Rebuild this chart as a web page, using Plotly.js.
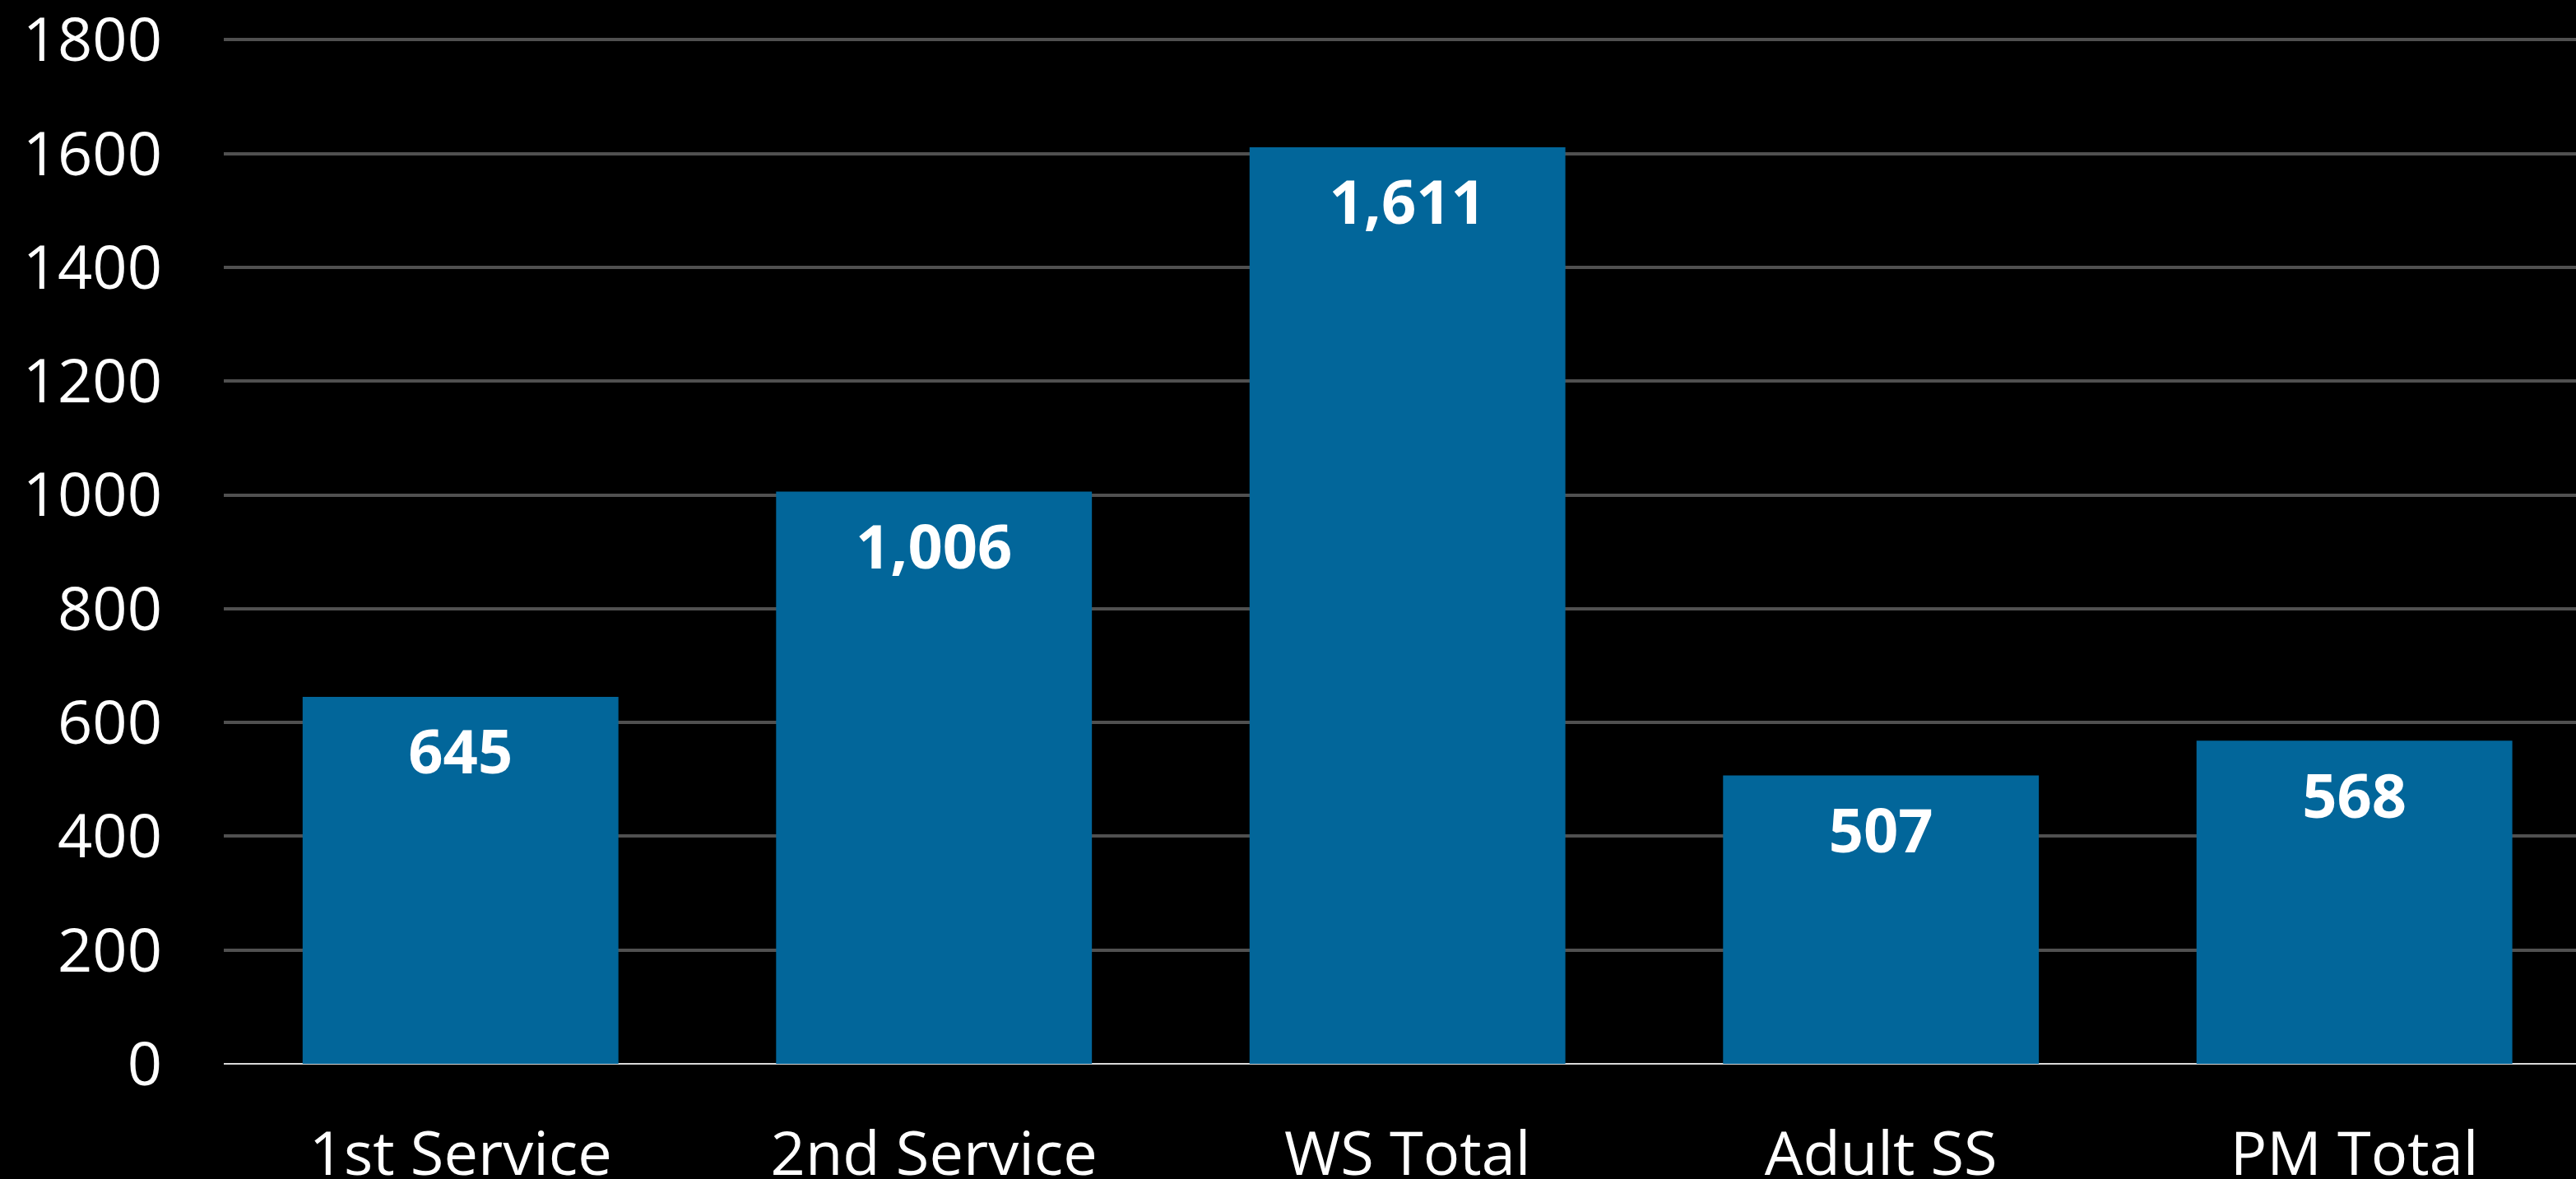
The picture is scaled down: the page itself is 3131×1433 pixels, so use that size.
<!DOCTYPE html>
<html>
<head>
<meta charset="utf-8">
<script src="https://cdn.plot.ly/plotly-3.0.1.min.js"></script>
<style>
html,body{margin:0;padding:0;background:#000;overflow:hidden;}
#chart{width:3131px;height:1433px;}
</style>
</head>
<body>
<div id="chart"></div>
<script>
const categories = ["1st Service", "2nd Service", "WS Total", "Adult SS", "PM Total"];
const attendance = [645, 1006, 1611, 507, 568];
const labels = ["645", "1,006", "1,611", "507", "568"];
const yTicks = [0, 200, 400, 600, 800, 1000, 1200, 1400, 1600, 1800];

const bars = {
  type: "bar",
  x: categories,
  y: attendance,
  marker: {color: "#02669a", line: {width: 0}},
  hoverinfo: "none"
};

const valueLabels = {
  type: "scatter",
  mode: "markers+text",
  x: categories,
  y: attendance,
  text: labels,
  textposition: "bottom center",
  textfont: {family: "Open Sans", size: 74, color: "#ffffff", weight: 700},
  marker: {size: 59, opacity: 0, color: "#02669a"},
  cliponaxis: false,
  hoverinfo: "none"
};

const layout = {
  width: 3131,
  height: 1433,
  paper_bgcolor: "#000000",
  plot_bgcolor: "#000000",
  margin: {l: 272, r: 0, t: 47, b: 140},
  bargap: 0.333,
  showlegend: false,
  font: {family: "Open Sans", color: "#ffffff", size: 74},
  xaxis: {
    type: "category",
    range: [-0.5, 4.468],
    showgrid: false,
    showline: false,
    ticks: "",
    ticklabelstandoff: 60,
    ticklabeloverflow: "allow",
    tickfont: {family: "Open Sans", size: 74, color: "#ffffff"},
    fixedrange: true
  },
  yaxis: {
    range: [0, 1802],
    tickvals: yTicks,
    ticktext: yTicks.map(String),
    showgrid: true,
    gridcolor: "#505050",
    gridwidth: 4,
    zeroline: true,
    zerolinecolor: "#d9d9d9",
    zerolinewidth: 2,
    showline: false,
    ticks: "",
    ticklabelstandoff: 74,
    ticklabeloverflow: "allow",
    tickfont: {family: "Open Sans", size: 74, color: "#ffffff"},
    fixedrange: true
  }
};

Plotly.newPlot("chart", [bars, valueLabels], layout, {displayModeBar: false, staticPlot: true});
</script>
</body>
</html>
